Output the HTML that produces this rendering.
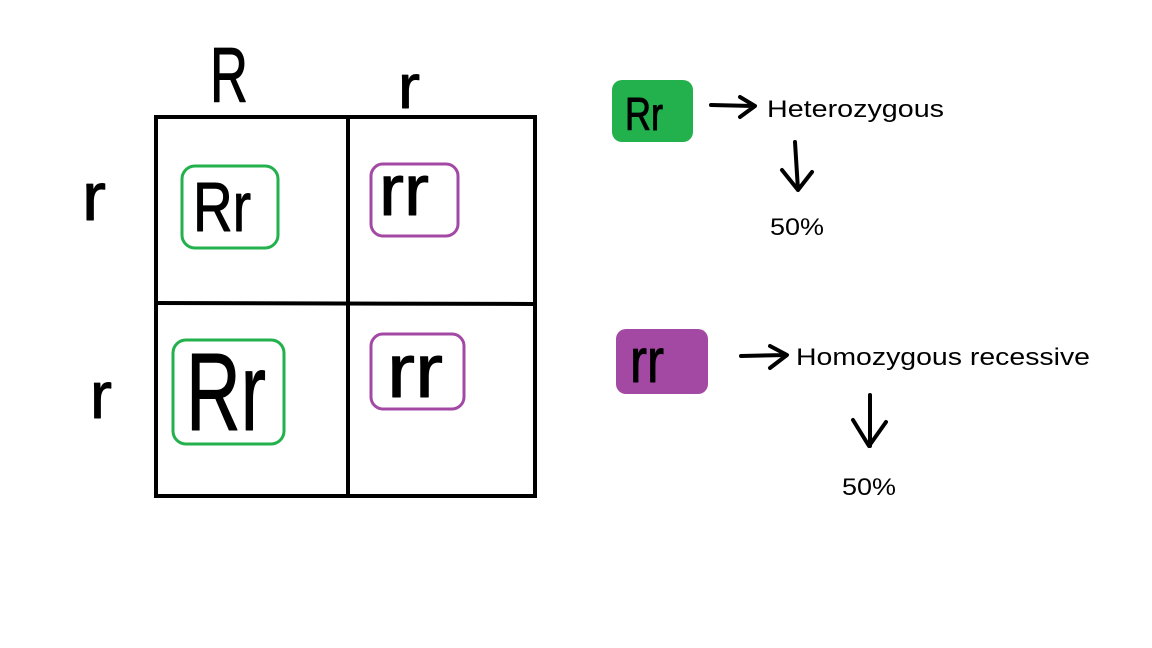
<!DOCTYPE html>
<html><head><meta charset="utf-8"><style>
html,body{margin:0;padding:0;background:#fff}
svg{display:block}
.h{font-family:"Liberation Sans",sans-serif;fill:#000;stroke:#000;stroke-width:1;stroke-linejoin:round}
.t{font-family:"Liberation Sans",sans-serif;fill:#000;font-size:24px}
</style></head><body>
<svg width="1152" height="648" viewBox="0 0 1152 648" xmlns="http://www.w3.org/2000/svg">
<rect width="1152" height="648" fill="#fff"/>
<rect x="156" y="117" width="379" height="379" fill="none" stroke="#000" stroke-width="4"/>
<line x1="348" y1="117" x2="348" y2="496" stroke="#000" stroke-width="4"/>
<line x1="156" y1="303" x2="535" y2="304" stroke="#000" stroke-width="4"/>
<rect x="182" y="166" width="96" height="82" rx="13" fill="none" stroke="#22b14c" stroke-width="3"/>
<rect x="173" y="340" width="111" height="104" rx="13" fill="none" stroke="#22b14c" stroke-width="3"/>
<rect x="371" y="164" width="87" height="72" rx="12" fill="none" stroke="#a349a4" stroke-width="3"/>
<rect x="371" y="334" width="93" height="75" rx="12" fill="none" stroke="#a349a4" stroke-width="3"/>
<text class="h" x="210" y="102" font-size="78" textLength="38" lengthAdjust="spacingAndGlyphs">R</text>
<text class="h" x="398" y="108" font-size="62" textLength="22" lengthAdjust="spacingAndGlyphs">r</text>
<text class="h" x="82" y="220" font-size="68" textLength="24" lengthAdjust="spacingAndGlyphs">r</text>
<text class="h" x="90" y="418" font-size="66" textLength="22" lengthAdjust="spacingAndGlyphs">r</text>
<text class="h" x="193" y="231" font-size="70" textLength="58" lengthAdjust="spacingAndGlyphs">Rr</text>
<text class="h" x="379" y="215" font-size="72" textLength="50" lengthAdjust="spacingAndGlyphs">rr</text>
<text class="h" x="186" y="430" font-size="110" textLength="80" lengthAdjust="spacingAndGlyphs">Rr</text>
<text class="h" x="387" y="397" font-size="76" textLength="56" lengthAdjust="spacingAndGlyphs">rr</text>
<rect x="612" y="80" width="81" height="62" rx="10" fill="#22b14c"/>
<text class="h" x="625" y="130" font-size="46" textLength="38" lengthAdjust="spacingAndGlyphs">Rr</text>
<rect x="616" y="329" width="92" height="65" rx="10" fill="#a349a4"/>
<text class="h" x="630" y="382" font-size="62" textLength="34" lengthAdjust="spacingAndGlyphs">rr</text>
<g fill="none" stroke="#000" stroke-width="4" stroke-linecap="round" stroke-linejoin="round">
<path d="M711 105 L753 106 M740 97 L755 106 L740 117"/>
<path d="M795 142 L798 190 M782 170 L798 190 L812 172"/>
<path d="M741 356 L786 355 M770 346 L787 355 L770 368"/>
<path d="M870 395 L870 446 M853 420 L869 446 L886 422"/>
</g>
<text class="t" x="767" y="117" textLength="177" lengthAdjust="spacingAndGlyphs">Heterozygous</text>
<text class="t" x="770" y="235" textLength="54" lengthAdjust="spacingAndGlyphs">50%</text>
<text class="t" x="796" y="365" textLength="294" lengthAdjust="spacingAndGlyphs">Homozygous recessive</text>
<text class="t" x="842" y="495" textLength="54" lengthAdjust="spacingAndGlyphs">50%</text>
</svg>
</body></html>
